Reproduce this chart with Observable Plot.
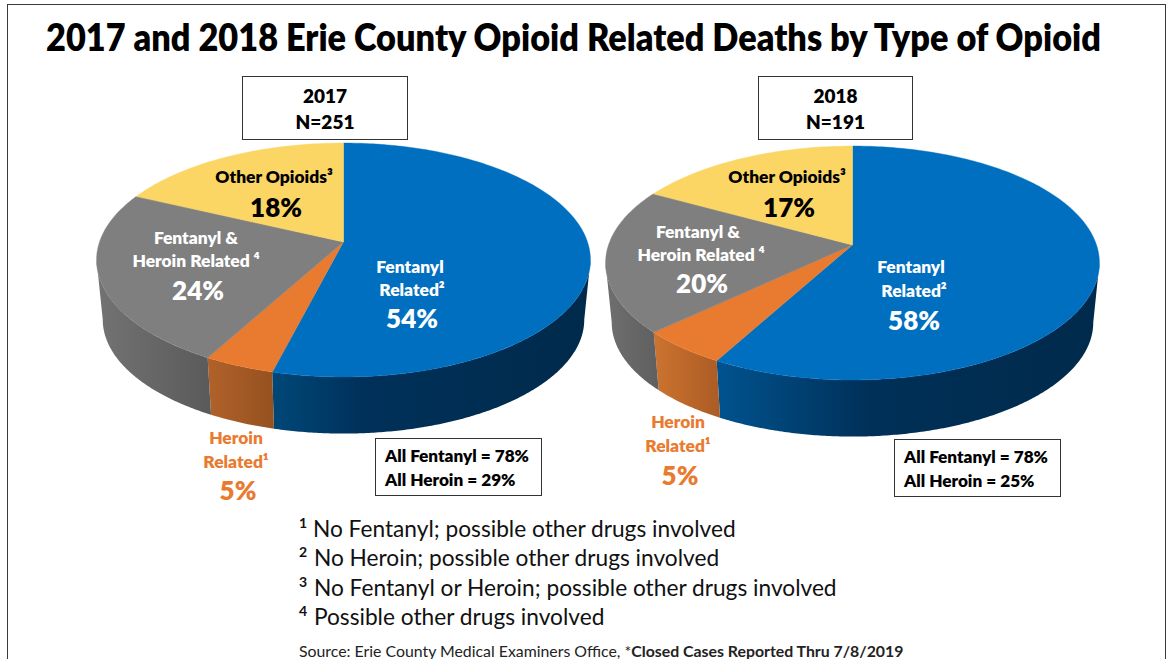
<!DOCTYPE html>
<html>
<head>
<meta charset="utf-8">
<script src="https://cdn.jsdelivr.net/npm/d3@7"></script>
<script src="https://cdn.jsdelivr.net/npm/@observablehq/plot@0.6"></script>
<style>
  html,body{margin:0;padding:0;background:#fff;}
  #page{position:relative;width:1168px;height:659px;overflow:hidden;font-family:Lato,sans-serif;color:#000;}
  #frame{position:absolute;left:7px;top:4px;width:1159px;height:700px;border:1.5px solid #3a3a3a;box-sizing:border-box;pointer-events:none;}
  #title{position:absolute;left:46px;top:14px;font-size:37px;font-weight:800;line-height:46px;white-space:nowrap;transform-origin:0 50%;}
  #chart{position:absolute;left:0;top:0;}
  .box{position:absolute;border:1.5px solid #333;background:#fff;box-sizing:border-box;font-weight:800;}
  .year{text-align:center;font-size:19px;line-height:26px;padding-top:6px;}
  .all{font-size:17.2px;line-height:24px;padding:5px 0 0 9px;white-space:nowrap;}
  .note{position:absolute;font-size:22.7px;line-height:28px;white-space:nowrap;color:#111;}
  .note sup{font-size:14px;line-height:0;font-weight:700;}
  .note sup.wide{margin-right:1px;}
  #source{position:absolute;left:299px;top:642px;font-size:15.85px;line-height:18px;white-space:nowrap;color:#222;}
</style>
</head>
<body>
<div id="page">
  <div id="frame"></div>
  <div id="title">2017 and 2018 Erie County Opioid Related Deaths by Type of Opioid</div>
  <div id="chart"></div>
  <div class="box year" style="left:242px;top:76px;width:166px;height:64px">2017<br>N=251</div>
  <div class="box year" style="left:758px;top:76px;width:155px;height:64px">2018<br>N=191</div>
  <div class="box all" style="left:375px;top:438px;width:167px;height:58px">All Fentanyl = 78%<br>All Heroin = 29%</div>
  <div class="box all" style="left:894px;top:439px;width:167px;height:58px">All Fentanyl = 78%<br>All Heroin = 25%</div>
  <div class="note" style="left:299px;top:515px"><sup>1</sup> No Fentanyl; possible other drugs involved</div>
  <div class="note" style="left:299px;top:544px"><sup class="wide">2</sup> No Heroin; possible other drugs involved</div>
  <div class="note" style="left:299px;top:574px"><sup class="wide">3</sup> No Fentanyl or Heroin; possible other drugs involved</div>
  <div class="note" style="left:299px;top:603px"><sup class="wide">4</sup> Possible other drugs involved</div>
  <div id="source">Source: Erie County Medical Examiners Office, *<b>Closed Cases Reported Thru 7/8/2019</b></div>
</div>
<script>
// ---- data ----
const years = [2017, 2018];
const categories = ["Fentanyl Related", "Heroin Related", "Fentanyl & Heroin Related", "Other Opioids"];
const shares2017 = [54, 4, 24, 18];   // slice sizes as drawn (the printed labels round to 101)
const shares2018 = [58, 5, 20, 17];
const printed2017 = ["54%", "5%", "24%", "18%"];
const printed2018 = ["58%", "5%", "20%", "17%"];
const faceColors = ["#016fc0", "#e97b30", "#7f7f7f", "#fbd665"];

// ---- perspective of the tilted disc ----
const R = 244, A = 114.2, K = 0.1538, SHRINK = 0.975, DROP = 60;
const pieDrop = {2017: 0, 2018: 3};
const project = (f) => {
  const t = 2 * Math.PI * f, u = Math.sin(t), v = -Math.cos(t), w = 1 - K * v;
  return [R * u / w, A * v / w];
};
const visibleFrom = Math.acos(-K) / (2 * Math.PI), visibleTo = 1 - visibleFrom;

const sharesByYear = {2017: shares2017, 2018: shares2018};
const faceRows = [], wallRows = [];
for (const year of years) {
  const s = sharesByYear[year], total = d3.sum(s);
  let start = 0;
  s.forEach((share, i) => {
    const end = start + share / total, n = Math.ceil((end - start) * 360);
    for (let j = 0; j <= n; j++) {
      const f = start + (end - start) * j / n, [x, y] = project(f);
      faceRows.push({year, cat: categories[i], x, y: y + pieDrop[year], cy: pieDrop[year]});
    }
    const a = Math.max(start, visibleFrom), b = Math.min(end, visibleTo);
    if (b > a) for (let j = 0; j <= n; j++) {
      const f = a + (b - a) * j / n, [x, y] = project(f);
      wallRows.push({year, i, x, y: y + pieDrop[year], x2: x * SHRINK, y2: y * SHRINK + DROP + pieDrop[year]});
    }
    start = end;
  });
}

// wall shading: [offset, colour] stops for each slice of each year
const wallShades = {
  2017: [[[0,"#004879"],[.28,"#00315a"],[1,"#002a4b"]], [[0,"#b1622a"],[1,"#95511f"]], [[0,"#737373"],[1,"#5a5a5a"]]],
  2018: [[[0,"#00538f"],[.4,"#003058"],[1,"#002a4b"]], [[0,"#cc732f"],[1,"#ab5c25"]], [[0,"#6f6f6f"],[1,"#5f5f5f"]]]
};

// ---- labels ----
const NAME = 17.4, PCT = 26;
const labelRows = [
  {year:2017, text:"Fentanyl",           size:NAME, color:"#fff",    x:66,   y:25},
  {year:2017, text:"Related²",           size:NAME, color:"#fff",    x:68,   y:48},
  {year:2017, text:printed2017[0],       size:PCT,  color:"#fff",    x:68,   y:77},
  {year:2017, text:"Heroin",             size:NAME, color:"#e97b30", x:-108, y:196},
  {year:2017, text:"Related¹",           size:NAME, color:"#e97b30", x:-108, y:220},
  {year:2017, text:printed2017[1],       size:PCT,  color:"#e97b30", x:-106, y:249},
  {year:2017, text:"Fentanyl &",         size:NAME, color:"#fff",    x:-148, y:-4},
  {year:2017, text:"Heroin Related ⁴",   size:NAME, color:"#fff",    x:-148, y:19},
  {year:2017, text:printed2017[2],       size:PCT,  color:"#fff",    x:-146, y:49},
  {year:2017, text:"Other Opioids³",     size:NAME, color:"#000",    x:-70,  y:-65},
  {year:2017, text:printed2017[3],       size:PCT,  color:"#000",    x:-68,  y:-34},
  {year:2018, text:"Fentanyl",           size:NAME, color:"#fff",    x:58,   y:25},
  {year:2018, text:"Related²",           size:NAME, color:"#fff",    x:61,   y:49},
  {year:2018, text:printed2018[0],       size:PCT,  color:"#fff",    x:61,   y:79},
  {year:2018, text:"Heroin",             size:NAME, color:"#e97b30", x:-175, y:180},
  {year:2018, text:"Related¹",           size:NAME, color:"#e97b30", x:-175, y:204},
  {year:2018, text:printed2018[1],       size:PCT,  color:"#e97b30", x:-173, y:234},
  {year:2018, text:"Fentanyl &",         size:NAME, color:"#fff",    x:-155, y:-10},
  {year:2018, text:"Heroin Related ⁴",   size:NAME, color:"#fff",    x:-152, y:13},
  {year:2018, text:printed2018[2],       size:PCT,  color:"#fff",    x:-151, y:42},
  {year:2018, text:"Other Opioids³",     size:NAME, color:"#000",    x:-66,  y:-65},
  {year:2018, text:printed2018[3],       size:PCT,  color:"#000",    x:-64,  y:-34}
];

// ---- marks ----
const walls = [];
for (const year of years) for (const i of [0, 1, 2]) {
  walls.push(Plot.area(wallRows.filter(d => d.year === year && d.i === i), {
    fx: "year", x1: "x", y1: "y", x2: "x2", y2: "y2", fill: `url(#wall-${year}-${i})`, z: null
  }));
}
const labelMark = (size) => Plot.text(labelRows.filter(d => d.size === size), {
  fx: "year", x: "x", y: "y", text: "text", fill: d => d.color, fontSize: size,
  fontWeight: 800, textAnchor: "middle", lineAnchor: "middle"
});

const chart = Plot.plot({
  width: 1168, height: 659,
  marginLeft: 89, marginRight: 61, marginTop: 0, marginBottom: 0,
  style: {fontFamily: "Lato, sans-serif", background: "transparent", overflow: "visible"},
  fx: {domain: years, padding: 0, axis: null},
  x: {domain: [-254.5, 254.5], axis: null},
  y: {domain: [-242, 417], reverse: true, axis: null},
  color: {domain: categories, range: faceColors},
  marks: [
    ...walls,
    Plot.area(faceRows, {fx: "year", x1: 0, y1: "cy", x2: "x", y2: "y", z: "cat", fill: "cat", stroke: "cat", strokeWidth: 0.4}),
    labelMark(NAME),
    labelMark(PCT)
  ]
});
const defs = d3.select(chart).append("defs");
for (const year of years) wallShades[year].forEach((stops, i) => {
  const g = defs.append("linearGradient").attr("id", `wall-${year}-${i}`).attr("x1", 0).attr("x2", 1).attr("y1", 0).attr("y2", 0);
  stops.forEach(([o, c]) => g.append("stop").attr("offset", o).attr("stop-color", c));
});
document.getElementById("chart").append(chart);

// fit the title to its measured run in the reference
const titleEl = document.getElementById("title");
titleEl.style.transform = `scaleX(${1055 / titleEl.getBoundingClientRect().width})`;
</script>
</body>
</html>
